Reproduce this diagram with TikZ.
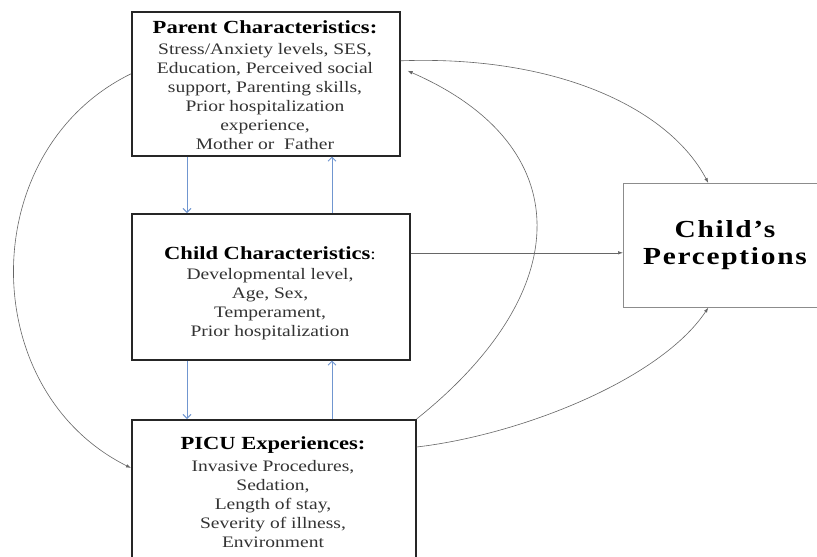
\documentclass[tikz,border=0pt]{standalone}
\usepackage{fontspec}
\setmainfont{Liberation Serif}[FakeStretch=1.22]
\newfontfamily\percfont{Liberation Serif}[FakeStretch=1.2,LetterSpace=7]
\usetikzlibrary{arrows.meta}
\tikzset{>={Latex[length=5pt,width=3.5pt]}}
\usepackage[svgnames]{xcolor}
\definecolor{linkblue}{RGB}{112,150,208}

\newcommand{\boxtitle}{\fontsize{18.5}{19}\selectfont\bfseries}

\tikzset{
  box/.style={draw=black!85, line width=1.6pt, inner sep=0pt, anchor=north west},
  outbox/.style={draw=black!45, line width=0.6pt, inner sep=0pt, anchor=north west},
  boxtext/.style={anchor=north, inner sep=0pt, align=center, text=black!80,
    font=\fontsize{16}{19}\selectfont},
  link/.style={draw=linkblue, line width=0.9pt, -{Straight Barb[length=4pt,width=8pt]}},
  flow/.style={draw=black!60, line width=0.6pt, ->},
}

\begin{document}
\begin{tikzpicture}[x=1pt, y=-1pt]
  \clip (0,0) rectangle (817,557);
  \fill[white] (0,0) rectangle (817,557);

  % 坐标点定义
  \coordinate (downx) at (187,0);
  \coordinate (upx) at (332,0);

  % 方框
  \node[box, minimum width=268pt, minimum height=144pt] (parent) at (131,11) {};
  \node[box, minimum width=278pt, minimum height=146pt] (child) at (131,213) {};
  \node[box, minimum width=284pt, minimum height=160pt] (picu) at (131,419) {};
  \node[outbox, minimum width=204pt, minimum height=124pt] (perc) at (623,183) {};

  % 文本标签
  \node[boxtext] (parenttext) at (265,20) {{\boxtitle\color{black}Parent Characteristics:}\\[2pt]
    Stress/Anxiety levels, SES,\\ Education, Perceived social\\ support, Parenting skills,\\
    Prior hospitalization\\ experience,\\ Mother or\ \ Father};
  \node[boxtext] (childtext) at (270,246) {{\boxtitle\color{black}Child Characteristics}{\color{black}:}\\[1pt]
    Developmental level,\\ Age, Sex,\\ Temperament,\\ Prior hospitalization};
  \node[boxtext] (picutext) at (273,436) {{\boxtitle\color{black}PICU Experiences:}\\[3pt]
    Invasive Procedures,\\ Sedation,\\ Length of stay,\\ Severity of illness,\\ Environment};
  \node[anchor=north, inner sep=0pt, align=center,
    font=\percfont\fontsize{24.5}{27}\selectfont\bfseries] (perctext) at (725,220)
    {Child’s\\ Perceptions};

  % 蓝色箭头
  \draw[link] (parent.south -| downx) -- (child.north -| downx);
  \draw[link] (child.north -| upx) -- (parent.south -| upx);
  \draw[link] (child.south -| downx) -- (picu.north -| downx);
  \draw[link] (picu.north -| upx) -- (child.south -| upx);

  % 曲线箭头
  \draw[flow] ([yshift=34pt]child.east) -- ([yshift=34pt]child.east -| perc.west);
  \draw[flow] ([yshift=23pt]parent.east) .. controls (560,55) and (670,110) .. ([xshift=-17pt]perc.north);
  \draw[flow] (picu.north east) .. controls (578,290) and (578,145) .. ([xshift=7pt,yshift=13pt]parent.east);
  \draw[flow] ([yshift=-28pt]picu.north east) .. controls (520,435) and (660,380) .. ([xshift=-17pt]perc.south);
  \draw[flow] ([yshift=10pt]parent.west) .. controls (-25,150) and (-25,390) .. ([yshift=-49pt]picu.north west);
\end{tikzpicture}
\end{document}
